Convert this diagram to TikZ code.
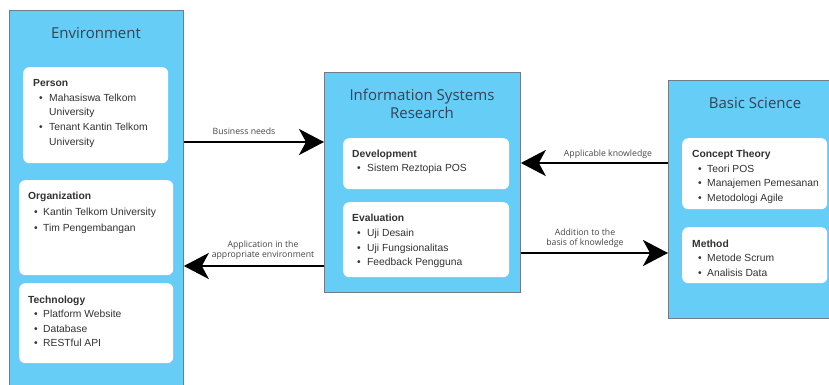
\documentclass[tikz,border=0pt]{standalone}
\usepackage{fontspec}
\setmainfont{Liberation Sans}
\newfontfamily\ttlfont{Open Sans}
\usetikzlibrary{arrows.meta}
\definecolor{boxfill}{RGB}{102,205,247}
\definecolor{boxline}{RGB}{110,125,135}
\definecolor{ttlcol}{RGB}{50,68,82}
\definecolor{txtcol}{RGB}{50,50,50}
\definecolor{lblcol}{RGB}{70,70,70}
\tikzset{
  bigbox/.style={draw=boxline, fill=boxfill, line width=0.8pt, inner sep=0pt, anchor=north west},
  card/.style={fill=white, rounded corners=6pt, inner sep=0pt, anchor=north west},
  ttl/.style={font=\ttlfont\fontsize{15}{18.5}\selectfont, text=ttlcol, align=center, inner sep=0pt},
  head/.style={font=\bfseries\fontsize{10.3}{12}\selectfont, text=txtcol, anchor=base west, inner sep=0pt},
  itm/.style={font=\fontsize{10.3}{12}\selectfont, text=txtcol, anchor=base west, inner sep=0pt},
  bul/.style={font=\fontsize{10.3}{12}\selectfont, text=txtcol, anchor=base west, inner sep=0pt},
  lbl/.style={font=\ttlfont\fontsize{8.7}{10.2}\selectfont, text=lblcol, align=center, inner sep=0pt},
  arr/.style={line width=2.6pt, -{Stealth[length=25pt, width=26pt, inset=7pt]}},
}
\begin{document}
\begin{tikzpicture}[x=1pt, y=-1pt]
\useasboundingbox (0,0) rectangle (829,385);
\clip (0,0) rectangle (829,385);

% ---------- Environment ----------
\node[bigbox, minimum width=174pt, minimum height=400pt] (env) at (9,10) {};
\node[ttl] (envt) at (96,33) {Environment};

\node[card, minimum width=145pt, minimum height=96pt] (pcard) at (23,67) {};
\node[head] (ph) at (33,86.5) {Person};
\node[bul] (pb1) at (39,101.2) {•};
\node[itm] (p1) at (49,101.2) {Mahasiswa Telkom};
\node[itm] (p1b) at (49,115.9) {University};
\node[bul] (pb2) at (39,130.6) {•};
\node[itm] (p2) at (49,130.6) {Tenant Kantin Telkom};
\node[itm] (p2b) at (49,145.3) {University};

\node[card, minimum width=154pt, minimum height=95pt] (ocard) at (19,180) {};
\node[head] (oh) at (28,199.5) {Organization};
\node[bul] (ob1) at (34,215.5) {•};
\node[itm] (o1) at (43,215.5) {Kantin Telkom University};
\node[bul] (ob2) at (34,231.5) {•};
\node[itm] (o2) at (43,231.5) {Tim Pengembangan};

\node[card, minimum width=154pt, minimum height=80pt] (tcard) at (19,283) {};
\node[head] (th) at (28,303.5) {Technology};
\node[bul] (tb1) at (34,317.8) {•};
\node[itm] (t1) at (43,317.8) {Platform Website};
\node[bul] (tb2) at (34,332.3) {•};
\node[itm] (t2) at (43,332.3) {Database};
\node[bul] (tb3) at (34,346.8) {•};
\node[itm] (t3) at (43,346.8) {RESTful API};

% ---------- Information Systems Research ----------
\node[bigbox, minimum width=196pt, minimum height=220pt] (isr) at (324,72) {};
\node[ttl] (isrt) at (422,104) {Information Systems\\Research};

\node[card, minimum width=166pt, minimum height=51pt] (dcard) at (343,138) {};
\node[head] (dh) at (352,157.5) {Development};
\node[bul] (db1) at (357,171.8) {•};
\node[itm] (d1) at (367,171.8) {Sistem Reztopia POS};

\node[card, minimum width=166pt, minimum height=75pt] (ecard) at (343,202) {};
\node[head] (eh) at (352,221.5) {Evaluation};
\node[bul] (eb1) at (357,236.5) {•};
\node[itm] (e1) at (367,236.5) {Uji Desain};
\node[bul] (eb2) at (357,251.3) {•};
\node[itm] (e2) at (367,251.3) {Uji Fungsionalitas};
\node[bul] (eb3) at (357,265.8) {•};
\node[itm] (e3) at (367,265.8) {Feedback Pengguna};

% ---------- Basic Science ----------
\node[bigbox, minimum width=180pt, minimum height=238pt] (bs) at (668,80) {};
\node[ttl] (bst) at (755,103) {Basic Science};

\node[card, minimum width=145pt, minimum height=71pt] (ccard) at (682,138) {};
\node[head] (ch) at (692,157.5) {Concept Theory};
\node[bul] (cb1) at (698,172.5) {•};
\node[itm] (c1) at (707,172.5) {Teori POS};
\node[bul] (cb2) at (698,186.8) {•};
\node[itm] (c2) at (707,186.8) {Manajemen Pemesanan};
\node[bul] (cb3) at (698,201.5) {•};
\node[itm] (c3) at (707,201.5) {Metodologi Agile};

\node[card, minimum width=145pt, minimum height=56pt] (mcard) at (682,227) {};
\node[head] (mh) at (692,247.5) {Method};
\node[bul] (mb1) at (698,261.5) {•};
\node[itm] (m1) at (707,261.5) {Metode Scrum};
\node[bul] (mb2) at (698,276.3) {•};
\node[itm] (m2) at (707,276.3) {Analisis Data};

% ---------- Connectors ----------
\coordinate (yb) at (0,142);
\coordinate (ya) at (0,266);
\coordinate (yk) at (0,163);
\coordinate (yd) at (0,253);
\draw[arr] (env.east |- yb) -- (isr.west |- yb);
\draw[arr] (isr.west |- ya) -- (env.east |- ya);
\draw[arr] (bs.west |- yk) -- (isr.east |- yk);
\draw[arr] (isr.east |- yd) -- (bs.west |- yd);

\node[lbl] (lb) at (244,131) {Business needs};
\node[lbl] (la) at (263,250) {Application in the\\appropriate environment};
\node[lbl] (lk) at (608,154.5) {Applicable knowledge};
\node[lbl] (ld) at (585,238) {Addition to the\\basis of knowledge};
\end{tikzpicture}
\end{document}
